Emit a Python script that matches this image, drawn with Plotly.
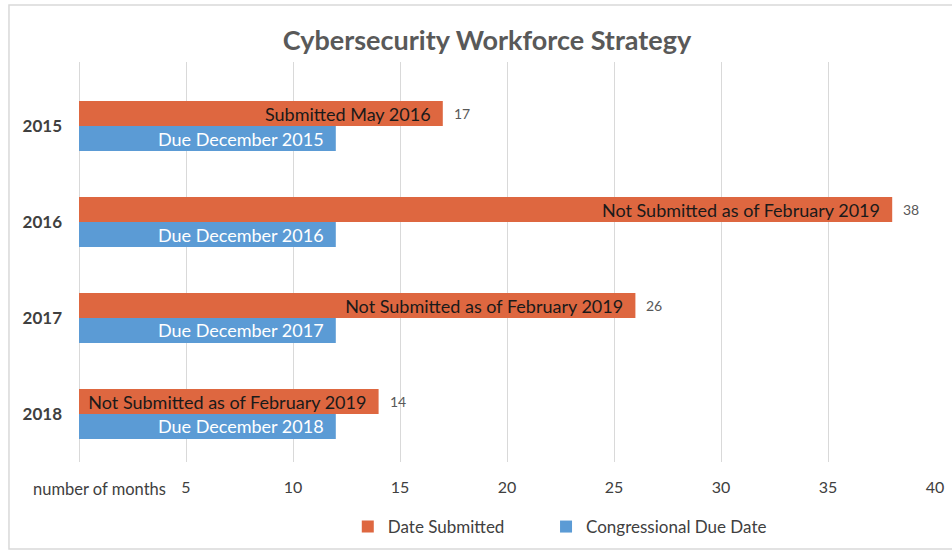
import plotly.graph_objects as go

years = ["2015", "2016", "2017", "2018"]
submitted_months = [17, 38, 26, 14]
submitted_text = ["Submitted May 2016", "Not Submitted as of February 2019",
                  "Not Submitted as of February 2019", "Not Submitted as of February 2019"]
due_months = [12, 12, 12, 12]
due_text = ["Due December 2015", "Due December 2016", "Due December 2017", "Due December 2018"]
x_ticks = [5, 10, 15, 20, 25, 30, 35, 40]

FONT = "Lato"
ORANGE = "#DE6740"
BLUE = "#5B9BD5"
PAD = "&nbsp;&nbsp;"

fig = go.Figure()
fig.add_trace(go.Bar(
    y=years, x=submitted_months, orientation="h", name="Date Submitted",
    marker=dict(color=ORANGE, line=dict(width=0)),
    text=[t + PAD for t in submitted_text], textposition="inside", insidetextanchor="end",
    constraintext="none", legend="legend", showlegend=True,
    textfont=dict(family=FONT, size=18, color="#1a1a1a"),
))
fig.add_trace(go.Bar(
    y=years, x=due_months, orientation="h", name="Congressional Due Date",
    marker=dict(color=BLUE, line=dict(width=0)),
    text=[t + PAD for t in due_text], textposition="inside", insidetextanchor="end",
    constraintext="none", legend="legend2", showlegend=True,
    textfont=dict(family=FONT, size=18, color="white"),
))

for i, v in enumerate(submitted_months):
    fig.add_annotation(x=v, y=i, text=str(v), showarrow=False, xanchor="left",
                       xshift=9, yshift=13, font=dict(family=FONT, size=14, color="#595959"))

fig.add_annotation(xref="paper", yref="paper", x=0.0245, y=-0.0675, text="number of months",
                   showarrow=False, xanchor="center", yanchor="middle",
                   font=dict(family=FONT, size=16.5, color="#404040"))

# outer border
fig.add_shape(type="rect", xref="paper", yref="paper",
              x0=-0.0818, x1=1.05, y0=-0.2175, y1=1.1425,
              line=dict(color="#d9d9d9", width=1.5), fillcolor="rgba(0,0,0,0)", layer="below")

legend_font = dict(family=FONT, size=17, color="#404040")
fig.update_layout(
    width=952, height=552, showlegend=True,
    margin=dict(l=79, r=17, t=62, b=90, autoexpand=False),
    paper_bgcolor="white", plot_bgcolor="white",
    barmode="group", bargap=0.48, bargroupgap=0,
    title=dict(text="<b>Cybersecurity Workforce Strategy</b>", xref="paper", x=0.4766,
               xanchor="center", y=0.926, yanchor="middle", automargin=False,
               font=dict(family=FONT, size=27, color="#595959")),
    xaxis=dict(range=[0, 40], tickvals=x_ticks, showgrid=True, gridcolor="#d9d9d9",
               gridwidth=1, zeroline=True, zerolinecolor="#d9d9d9", zerolinewidth=1,
               showline=False, ticks="", ticklabelstandoff=14, automargin=False,
               tickfont=dict(family=FONT, size=16, color="#404040")),
    yaxis=dict(type="category", range=[3.5, -0.667], showgrid=False, ticks="",
               ticklabelstandoff=16, automargin=False,
               tickfont=dict(family=FONT, size=17, color="#404040", weight="bold")),
    legend=dict(orientation="h", x=0.314, xanchor="left", y=-0.1625, yanchor="middle",
                font=legend_font, itemwidth=30, visible=True),
    legend2=dict(orientation="h", x=0.5456, xanchor="left", y=-0.1625, yanchor="middle",
                 font=legend_font, itemwidth=30, visible=True),
)

fig.write_html("out.html", config={"displayModeBar": False},
               post_script="document.body.style.margin='0px';")
